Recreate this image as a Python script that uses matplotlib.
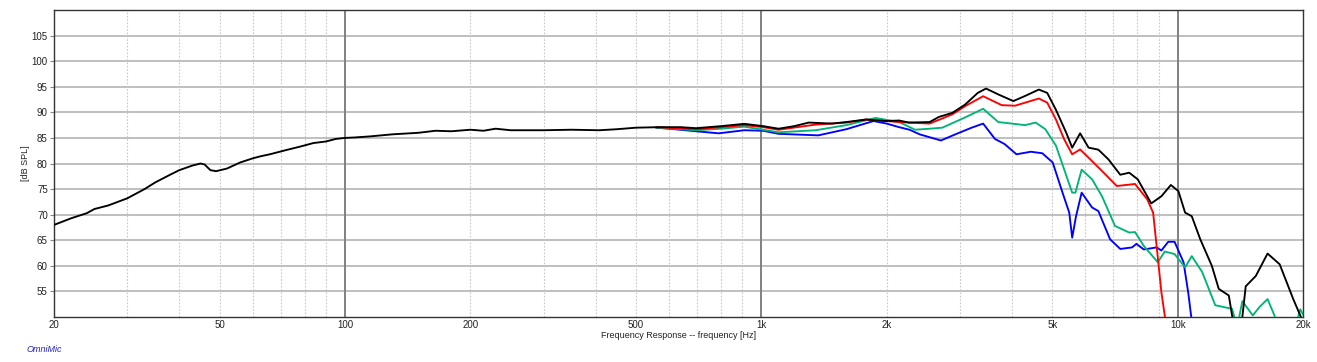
import numpy as np
import matplotlib
matplotlib.use("Agg")
import matplotlib.pyplot as plt
from matplotlib.ticker import FixedLocator, NullFormatter

plt.rcParams['font.family'] = ['Liberation Sans', 'DejaVu Sans']

# ---- data (frequency in Hz, level in dB SPL) ----
black_f = [20, 22, 24, 25, 27, 30, 33, 35, 38, 40, 43, 45, 46, 47.5, 49, 52, 56, 60, 62.6, 66, 72, 78, 84, 90, 95,
           100, 106, 115, 130, 150, 165, 180, 200, 215, 230, 250, 300, 350, 408, 450, 500, 569, 640, 697, 800, 910,
           1010, 1100, 1200, 1300, 1478, 1600, 1786, 1993, 2143, 2260, 2536, 2670, 2876, 3085, 3310, 3465, 3708,
           4030, 4300, 4640, 4860, 5100, 5400, 5580, 5830, 6110, 6450, 6820, 7280, 7650, 8020, 8640, 9140, 9630,
           10040, 10420, 10810, 11330, 12080, 12550, 13270, 13510, 13800, 14100, 14300, 14570, 15400, 16440,
           17580, 18950, 19700, 20000]
black_db = [68.0, 69.3, 70.3, 71.1, 71.8, 73.2, 75.0, 76.3, 77.8, 78.7, 79.6, 80.0, 79.8, 78.7, 78.5, 79.0, 80.2,
            81.0, 81.4, 81.8, 82.6, 83.3, 84.0, 84.3, 84.8, 85.0, 85.1, 85.3, 85.7, 86.0, 86.4, 86.3, 86.6, 86.4,
            86.8, 86.5, 86.5, 86.6, 86.5, 86.7, 87.0, 87.1, 87.1, 86.9, 87.3, 87.75, 87.3, 86.8, 87.3, 88.0, 87.8,
            88.1, 88.6, 88.3, 88.4, 88.0, 88.1, 89.1, 89.9, 91.5, 93.8, 94.65, 93.5, 92.2, 93.2, 94.45, 93.8, 90.5,
            86.0, 83.1, 85.9, 83.1, 82.7, 80.8, 77.8, 78.2, 76.9, 72.2, 73.6, 75.8, 74.6, 70.4, 69.7, 65.2, 60.0,
            55.5, 54.2, 50.3, 47.0, 47.0, 50.0, 56.0, 58.0, 62.4, 60.3, 53.5, 50.3, 49.0]

red_f = [560, 697, 800, 910, 1010, 1100, 1350, 1600, 1786, 2000, 2143, 2536, 2876, 3085, 3410, 3780, 4070, 4640,
         4860, 5100, 5340, 5580, 5830, 6170, 6700, 7140, 7900, 8450, 8730, 8900, 9140, 9310, 9400]
red_db = [87.1, 86.7, 87.1, 87.5, 87.1, 86.6, 87.6, 88.0, 88.6, 88.3, 88.1, 87.8, 89.6, 91.2, 93.15, 91.4, 91.3,
          92.7, 91.9, 88.6, 84.7, 81.8, 82.75, 80.8, 77.9, 75.6, 76.0, 73.0, 70.4, 63.9, 54.8, 50.3, 47.0]

green_f = [560, 697, 800, 910, 1100, 1350, 1600, 1880, 2143, 2340, 2536, 2720, 3085, 3410, 3708, 4300, 4560, 4810,
           5100, 5340, 5580, 5680, 5880, 6230, 6580, 7070, 7650, 7900, 8290, 8960, 9310, 9830, 10420, 10810,
           11450, 12310, 13510, 13900, 14300, 15150, 15700, 16440, 17080, 17500, 19000, 19700, 20000]
green_db = [87.0, 86.5, 86.8, 87.2, 86.1, 86.5, 87.5, 88.9, 88.1, 86.6, 86.8, 87.0, 89.0, 90.7, 88.1, 87.5, 88.0,
            86.7, 83.5, 78.8, 74.3, 74.3, 78.8, 76.9, 73.6, 67.8, 66.5, 66.6, 63.9, 60.7, 62.8, 62.3, 59.7, 61.9,
            58.8, 52.3, 51.6, 48.0, 53.1, 50.3, 51.9, 53.5, 50.3, 47.0, 47.0, 51.5, 50.5]

blue_f = [560, 600, 697, 790, 910, 1010, 1100, 1370, 1600, 1860, 2000, 2143, 2270, 2400, 2700, 2925, 3200, 3410,
          3640, 3840, 4100, 4440, 4730, 5010, 5290, 5490, 5580, 5700, 5880, 6230, 6450, 6880, 7280, 7770, 7960,
          8290, 8900, 9140, 9490, 9830, 10330, 10600, 10770, 10900]
blue_db = [87.0, 86.8, 86.3, 85.9, 86.5, 86.4, 85.8, 85.5, 86.7, 88.3, 87.8, 87.1, 86.6, 85.7, 84.5, 85.7, 87.0,
           87.8, 84.8, 83.8, 81.8, 82.3, 82.0, 80.2, 74.3, 70.4, 65.5, 69.7, 74.3, 71.4, 70.7, 65.2, 63.3, 63.6,
           64.3, 63.2, 63.6, 63.0, 64.7, 64.7, 60.7, 54.8, 50.3, 47.0]

x_ticks = [20, 50, 100, 200, 500, 1000, 2000, 5000, 10000, 20000]
x_labels = ["20", "50", "100", "200", "500", "1k", "2k", "5k", "10k", "20k"]
y_ticks = [55, 60, 65, 70, 75, 80, 85, 90, 95, 100, 105]

FS = 6.5

# ---- figure ----
fig = plt.figure(figsize=(13.17, 3.62), dpi=100)
ax = fig.add_axes([54 / 1317, 1 - 317 / 362, (1303 - 54) / 1317, (317 - 10) / 362])

ax.set_xscale('log')
ax.set_xlim(20, 20000)
ax.set_ylim(50, 110)

# grid
ax.set_yticks(y_ticks)
for y in y_ticks:
    ax.axhline(y, color='#b4b4b4', lw=1.2, zorder=1)
for f in [100, 1000, 10000]:
    ax.axvline(f, color='#808080', lw=1.4, zorder=1)
minor = [m * d for d in [10, 100, 1000, 10000] for m in range(2, 10) if 20 < m * d < 20000]
for f in minor:
    ax.axvline(f, color='#c8c8c8', lw=0.8, ls=(0, (1.5, 1.5)), zorder=1)

ax.xaxis.set_major_locator(FixedLocator(x_ticks))
ax.set_xticklabels(x_labels)
ax.xaxis.set_minor_formatter(NullFormatter())
ax.tick_params(axis='x', which='both', length=0, labelsize=FS + 0.5, colors='#222222', pad=2)
ax.tick_params(axis='y', which='major', length=3, width=0.8, color='#888888', direction='out',
               labelsize=FS + 0.5, labelcolor='#222222', pad=1.5)
ax.tick_params(axis='y', which='minor', length=0)

ax.plot(black_f, black_db, color='black', lw=1.35, zorder=5)
ax.plot(red_f, red_db, color='#ff0000', lw=1.35, zorder=4)
ax.plot(green_f, green_db, color='#00b478', lw=1.35, zorder=3)
ax.plot(blue_f, blue_db, color='#0000ff', lw=1.35, zorder=2)

for s in ax.spines.values():
    s.set_color('#333333')
    s.set_linewidth(1.0)

ax.set_xlabel("Frequency Response -- frequency [Hz]", fontsize=FS, labelpad=1, color='#222222')
ax.set_ylabel("[dB SPL]", fontsize=FS, color='#222222')
ax.yaxis.set_label_coords((30 - 54) / 1249, 0.5)

fig.text(27 / 1317, 1 - 349 / 362, "OmniMic", color='#2020d0', fontsize=FS, style='italic',
         ha='left', va='center')

fig.savefig("out.png", dpi=100)
